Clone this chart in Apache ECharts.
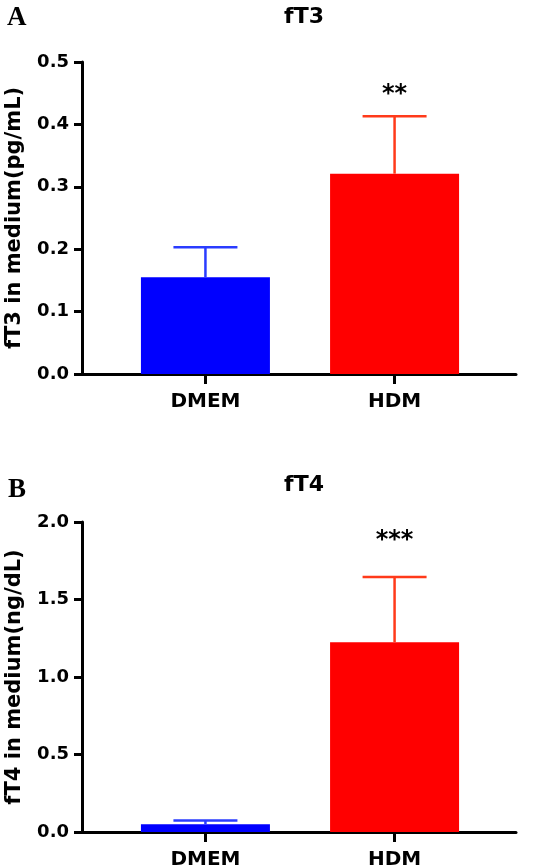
<!DOCTYPE html>
<html>
<head>
<meta charset="utf-8">
<script src="https://cdn.jsdelivr.net/npm/echarts@6/dist/echarts.min.js"></script>
<style>
html,body{margin:0;padding:0;background:#fff;}
#chart{width:551px;height:868px;}
</style>
</head>
<body>
<div id="chart"></div>
<script>
// ---- data ----
const categories = ['DMEM', 'HDM'];
const ft3Mean = [0.155, 0.321];
const ft3Err = [0.048, 0.092];
const ft3Sig = ['', '**'];
const ft3Ticks = [0, 0.5, 0.1];   // min, max, step
const ft4Mean = [0.05, 1.225];
const ft4Err = [0.025, 0.42];
const ft4Sig = ['', '***'];
const ft4Ticks = [0, 2.0, 0.5];
const panelTitles = ['fT3', 'fT4'];
const yNames = ['fT3 in medium(pg/mL)', 'fT4 in medium(ng/dL)'];
const panelLetters = ['A', 'B'];

// ---- style ----
const barColors = ['#0000ff', '#ff0000'];
const errColors = ['#2a3cff', '#ff3a1a'];
const FONT = 'DejaVu Sans';
const gridsPx = [
  {left: 82, width: 434, top: 62, height: 312, outerBoundsMode: 'none', containLabel: false},
  {left: 82, width: 434, top: 522, height: 310, outerBoundsMode: 'none', containLabel: false}
];
const starGap = [22, 36];

function xAxisCfg(gi) {
  return {
    type: 'value', gridIndex: gi, min: -0.6526, max: 1.642,
    splitLine: {show: false},
    axisLine: {show: true, onZero: false, lineStyle: {color: '#000', width: 3}},
    axisTick: {show: true, customValues: [0, 1], length: 10, lineStyle: {color: '#000', width: 3}},
    axisLabel: {
      customValues: [0, 1], margin: 18,
      formatter: v => categories[Math.round(v)] || '',
      color: '#000', fontFamily: FONT, fontWeight: 'bold', fontSize: 20
    }
  };
}
function yAxisCfg(gi, ticks, name) {
  return {
    type: 'value', gridIndex: gi, min: ticks[0], max: ticks[1], interval: ticks[2],
    name: name, nameLocation: 'middle', nameGap: 57,
    nameTextStyle: {color: '#000', fontFamily: FONT, fontWeight: 'bold', fontSize: 21},
    splitLine: {show: false},
    axisLine: {show: true, onZero: false, lineStyle: {color: '#000', width: 3}},
    axisTick: {show: true, length: 8, lineStyle: {color: '#000', width: 3}},
    axisLabel: {
      margin: 13, formatter: v => v.toFixed(1),
      color: '#000', fontFamily: FONT, fontWeight: 'bold', fontSize: 18
    }
  };
}
function barSeries(gi, means) {
  return {
    type: 'bar', xAxisIndex: gi, yAxisIndex: gi, barWidth: 129,
    data: means.map((m, i) => ({value: [i, m], itemStyle: {color: barColors[i]}})),
    z: 2
  };
}
function errSeries(gi, means, errs, sigs) {
  return {
    type: 'custom', xAxisIndex: gi, yAxisIndex: gi, z: 5, clip: false,
    data: means.map((m, i) => [i, m, errs[i]]),
    renderItem: function (params, api) {
      const i = params.dataIndex;
      const x = api.value(0), m = api.value(1), e = api.value(2);
      const p0 = api.coord([x, m]);
      const p1 = api.coord([x, m + e]);
      const col = errColors[i];
      const children = [
        {type: 'line', shape: {x1: p0[0], y1: p0[1], x2: p1[0], y2: p1[1]}, style: {stroke: col, lineWidth: 2.5}},
        {type: 'line', shape: {x1: p1[0] - 32, y1: p1[1], x2: p1[0] + 32, y2: p1[1]}, style: {stroke: col, lineWidth: 2.5}}
      ];
      if (sigs[i]) {
        children.push({
          type: 'text',
          style: {
            text: sigs[i], x: p1[0], y: p1[1] - starGap[gi],
            align: 'center', verticalAlign: 'middle',
            fill: '#000', font: 'bold 24px "' + FONT + '"'
          }
        });
      }
      return {type: 'group', children: children};
    }
  };
}

const chart = echarts.init(document.getElementById('chart'), null, {renderer: 'canvas'});
chart.setOption({
  animation: false,
  backgroundColor: '#fff',
  title: [
    {text: panelLetters[0], left: 2, top: 0, textStyle: {fontFamily: 'Liberation Serif', fontWeight: 'bold', fontSize: 27, color: '#000'}},
    {text: panelTitles[0], left: 299, top: 1, textAlign: 'center', textStyle: {fontFamily: FONT, fontWeight: 'bold', fontSize: 22, color: '#000'}},
    {text: panelLetters[1], left: 3, top: 472, textStyle: {fontFamily: 'Liberation Serif', fontWeight: 'bold', fontSize: 27, color: '#000'}},
    {text: panelTitles[1], left: 299, top: 469, textAlign: 'center', textStyle: {fontFamily: FONT, fontWeight: 'bold', fontSize: 22, color: '#000'}}
  ],
  grid: gridsPx,
  xAxis: [xAxisCfg(0), xAxisCfg(1)],
  yAxis: [yAxisCfg(0, ft3Ticks, yNames[0]), yAxisCfg(1, ft4Ticks, yNames[1])],
  series: [
    barSeries(0, ft3Mean), errSeries(0, ft3Mean, ft3Err, ft3Sig),
    barSeries(1, ft4Mean), errSeries(1, ft4Mean, ft4Err, ft4Sig)
  ]
});
</script>
</body>
</html>
